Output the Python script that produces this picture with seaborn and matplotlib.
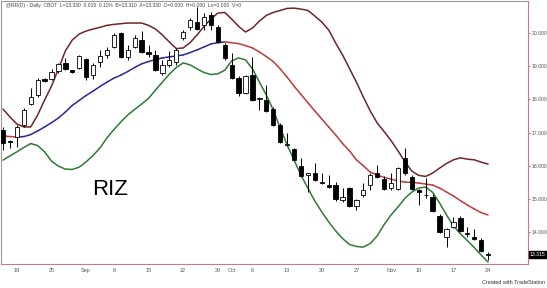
import numpy as np
import pandas as pd
import matplotlib
matplotlib.use("Agg")
import matplotlib.pyplot as plt
import seaborn as sns

# ---------------- data ----------------
opens = [17.08, 16.74, 16.88, 17.23, 17.86, 18.13, 18.60, 18.61, 18.85, 19.09,
         18.88, 18.94, 19.21, 18.73, 19.13, 19.33, 19.58, 20.00, 19.28, 19.58,
         19.79, 19.44, 19.34, 18.79, 19.04, 19.14, 19.84, 20.19, 20.34, 20.24,
         20.54, 20.19, 19.64, 19.04, 18.64, 18.18, 18.73, 18.00, 17.98, 17.71,
         17.23, 16.63, 16.50, 15.99, 15.72, 15.79, 15.52, 15.42, 15.42, 14.97,
         15.33, 14.79, 15.12, 15.42, 15.79, 15.60, 15.33, 15.30, 16.24, 15.66,
         15.27, 15.13, 15.06, 14.49, 13.85, 14.16, 14.43, 13.98, 13.85, 13.76,
         13.33]
highs = [17.18, 16.77, 17.23, 17.74, 18.34, 18.64, 18.64, 18.91, 19.10, 19.25,
         18.89, 19.34, 19.24, 19.10, 19.49, 19.58, 20.00, 20.03, 19.64, 19.95,
         20.05, 19.64, 19.50, 19.19, 19.45, 19.55, 20.09, 20.44, 20.79, 20.60,
         20.62, 20.25, 19.70, 19.40, 18.70, 18.75, 19.29, 18.07, 18.43, 17.78,
         17.30, 16.99, 16.55, 16.24, 15.79, 16.08, 15.78, 15.72, 15.50, 15.33,
         15.36, 15.00, 15.48, 15.78, 16.02, 15.70, 15.78, 15.96, 16.54, 15.72,
         15.29, 15.63, 15.15, 14.55, 14.13, 14.45, 14.50, 14.16, 14.10, 13.82,
         13.40]
lows = [16.48, 16.53, 16.57, 17.17, 17.83, 18.07, 18.53, 18.58, 18.80, 18.88,
        18.80, 18.91, 18.58, 18.61, 18.97, 19.25, 19.55, 19.25, 19.19, 19.55,
        19.39, 19.28, 18.85, 18.73, 18.98, 19.05, 19.80, 20.09, 20.09, 20.10,
        20.10, 19.70, 19.20, 18.60, 18.10, 18.15, 17.95, 17.68, 17.63, 17.20,
        16.70, 16.60, 16.15, 15.67, 15.21, 15.54, 15.45, 15.33, 14.94, 14.92,
        14.76, 14.67, 15.06, 15.27, 15.63, 15.27, 15.27, 15.27, 15.72, 15.27,
        14.82, 15.03, 14.60, 13.98, 13.55, 14.13, 14.00, 13.86, 13.77, 13.40,
        13.16]
closes = [16.70, 16.72, 17.18, 17.68, 18.07, 18.59, 18.55, 18.82, 19.06, 18.91,
          18.84, 19.31, 18.67, 19.04, 19.31, 19.49, 19.94, 19.28, 19.49, 19.85,
          19.43, 19.36, 18.89, 19.04, 19.19, 19.49, 20.04, 20.39, 20.11, 20.49,
          20.24, 19.74, 19.24, 18.64, 18.18, 18.70, 17.98, 18.04, 17.66, 17.23,
          16.73, 16.66, 16.17, 15.69, 15.78, 15.57, 15.47, 15.36, 14.99, 15.07,
          14.79, 14.97, 15.27, 15.72, 15.67, 15.30, 15.48, 15.93, 15.78, 15.30,
          15.21, 15.11, 14.64, 14.00, 14.10, 14.31, 14.04, 13.94, 13.80, 13.43,
          13.315]

upper_band = [17.71, 17.47, 17.26, 17.17, 17.17, 17.53, 17.98, 18.40, 18.92, 19.46,
              19.79, 19.97, 20.06, 20.12, 20.17, 20.23, 20.26, 20.28, 20.30, 20.30,
              20.30, 20.23, 20.12, 19.94, 19.73, 19.53, 19.55, 19.71, 19.94, 20.20,
              20.42, 20.60, 20.62, 20.42, 20.20, 20.03, 20.15, 20.36, 20.53, 20.62,
              20.68, 20.74, 20.75, 20.72, 20.68, 20.51, 20.33, 20.09, 19.70, 19.34,
              18.93, 18.52, 18.07, 17.65, 17.29, 17.03, 16.76, 16.45, 16.12, 15.84,
              15.71, 15.68, 15.78, 15.93, 16.07, 16.18, 16.24, 16.20, 16.18, 16.11,
              16.05]
mid_band = [16.90, 16.88, 16.87, 16.88, 16.94, 17.05, 17.17, 17.30, 17.44, 17.62,
            17.82, 17.97, 18.12, 18.25, 18.39, 18.52, 18.64, 18.73, 18.84, 18.96,
            19.07, 19.14, 19.20, 19.25, 19.28, 19.31, 19.34, 19.41, 19.49, 19.58,
            19.67, 19.71, 19.73, 19.71, 19.68, 19.62, 19.55, 19.43, 19.29, 19.14,
            18.92, 18.67, 18.40, 18.15, 17.90, 17.65, 17.41, 17.17, 16.93, 16.67,
            16.45, 16.18, 16.00, 15.81, 15.72, 15.65, 15.60, 15.54, 15.51, 15.50,
            15.48, 15.45, 15.42, 15.33, 15.21, 15.09, 14.95, 14.82, 14.70, 14.59,
            14.52]
lower_band = [16.17, 16.30, 16.42, 16.55, 16.67, 16.61, 16.42, 16.14, 15.99, 15.90,
              15.89, 15.96, 16.12, 16.31, 16.54, 16.84, 17.09, 17.32, 17.53, 17.70,
              17.86, 18.03, 18.28, 18.52, 18.76, 18.96, 19.10, 19.04, 18.92, 18.81,
              18.75, 18.77, 18.88, 19.16, 19.25, 19.19, 18.92, 18.52, 18.13, 17.68,
              17.14, 16.63, 16.17, 15.72, 15.32, 14.94, 14.61, 14.31, 14.04, 13.81,
              13.63, 13.57, 13.55, 13.66, 13.89, 14.23, 14.52, 14.76, 15.02, 15.21,
              15.33, 15.36, 15.20, 14.88, 14.52, 14.19, 13.95, 13.75, 13.54, 13.31,
              13.10]

x_tick_pos = [2, 7, 12, 16, 21, 26, 31, 33, 36, 41, 46, 51, 56, 60, 65, 70]
x_tick_labels = ["18", "25", "Sep", "8", "15", "22", "29", "Oct", "6", "13",
                 "20", "27", "Nov", "10", "17", "24"]
y_ticks = [14, 15, 16, 17, 18, 19, 20]
last_price = 13.315
header = ("@RR(D) - Daily  CBOT  L=13.330  0.015  0.11%  B=13.310  "
          "A=13.330  O=0.000  H=0.000  Lo=0.000  V=0")
symbol_text = "RIZ"

# ---------------- plotting ----------------
sns.set_theme(style="white")
plt.rcParams["font.family"] = ["Liberation Sans", "DejaVu Sans"]

W, H = 547, 288
fig = plt.figure(figsize=(W / 100, H / 100), dpi=100)
ax = fig.add_axes([1 / W, 1 - 264 / H, 527 / W, 263 / H])
ax.set_facecolor("white")

n = len(closes)
idx = np.arange(n)
df = pd.DataFrame({"i": idx, "open": opens, "high": highs, "low": lows,
                   "close": closes, "upper": upper_band, "mid": mid_band,
                   "lower": lower_band})

# bands
sns.lineplot(data=df, x="i", y="upper", ax=ax, color="#6e2626", lw=1.1)
sns.lineplot(data=df, x="i", y="lower", ax=ax, color="#2f7a35", lw=1.1)
mid = df["mid"].to_numpy()
for k in range(n - 1):
    col = "#2a2a9a" if mid[k + 1] > mid[k] else "#c23a3a"
    ax.plot(idx[k:k + 2], mid[k:k + 2], color=col, lw=1.1,
            solid_capstyle="round")

# candles
for _, r in df.iterrows():
    up = r["close"] >= r["open"]
    ax.vlines(r["i"], r["low"], r["high"], color="black", lw=0.7, zorder=3)
    lo = min(r["open"], r["close"])
    h = max(abs(r["close"] - r["open"]), 0.025)
    ax.bar(r["i"], h, bottom=lo, width=0.62,
           facecolor="white" if up else "black", edgecolor="black",
           lw=0.6, zorder=4)

ax.set_xlim(-0.29, 75.76)
ax.set_ylim(13.042, 20.964)
ax.set_xlabel("")
ax.set_ylabel("")

ax.set_xticks(x_tick_pos)
ax.set_xticklabels(x_tick_labels)
ax.yaxis.tick_right()
ax.set_yticks(y_ticks)
ax.set_yticklabels([f"{v:.3f}" for v in y_ticks])
ax.tick_params(axis="x", labelsize=4.0, colors="#555555", length=2, width=0.5,
               pad=2, direction="inout")
ax.tick_params(axis="y", labelsize=3.7, colors="#555555", length=1.5, width=0.5,
               pad=1.0)

for s in ["left", "top"]:
    ax.spines[s].set_color("#9a9a9a")
    ax.spines[s].set_linewidth(0.8)
for s in ["right", "bottom"]:
    ax.spines[s].set_color("#c9798a")
    ax.spines[s].set_linewidth(0.8)

# last price marker
ax.text(1.004, last_price, f"{last_price:.3f}", transform=ax.get_yaxis_transform(),
        fontsize=3.7, color="white", va="center", ha="left",
        bbox=dict(boxstyle="square,pad=0.2", fc="black", ec="black"))

# texts
fig.text(6 / W, 1 - 5 / H, header, fontsize=3.6, color="#444444",
         va="center", ha="left")
ax.text(15.4, 15.3, symbol_text, fontsize=16, color="black",
        ha="center", va="center")
fig.text(1 - 2 / W, 1 - 283 / H, "Created with TradeStation", fontsize=4.0,
         color="#333333", ha="right", va="center")

fig.savefig("out.png", dpi=100)
